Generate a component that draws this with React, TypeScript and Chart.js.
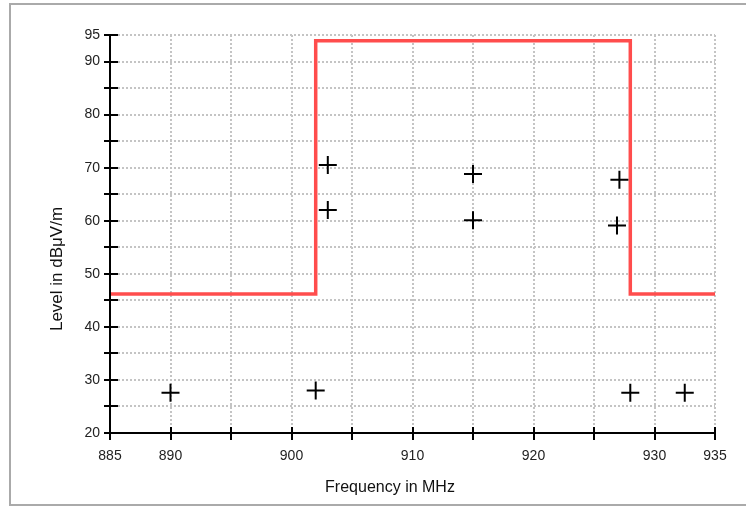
import React, { useEffect, useRef } from 'react';
import { Chart, registerables } from 'chart.js';

Chart.register(...registerables);

// ---- data ----
const limitFreq = [885, 902, 902, 928, 928, 935];
const limitLevel = [46.2, 46.2, 93.9, 93.9, 46.2, 46.2];
const measFreq = [890, 902, 903, 903, 915, 915, 927.1, 926.9, 928, 932.5];
const measLevel = [27.6, 28.0, 70.5, 62.0, 68.8, 60.1, 67.7, 59.1, 27.6, 27.6];
const xTickLabels = [885, 890, 900, 910, 920, 930, 935];
const yTickLabels = [20, 30, 40, 50, 60, 70, 80, 90, 95];
const xRange = [885, 935];
const yRange = [20, 95];
const tickStep = 5;
const xTitle = 'Frequency in MHz';
const yTitle = 'Level in dBμV/m';

const FONT = "'Liberation Sans', Arial, sans-serif";

const axesPlugin = {
  id: 'axesPlugin',
  afterDatasetsDraw(chart: any) {
    const { ctx, chartArea: a, scales } = chart;
    const x = scales.x;
    const y = scales.y;
    ctx.save();
    ctx.setLineDash([]);
    ctx.strokeStyle = '#000';
    ctx.lineWidth = 2;
    ctx.lineCap = 'butt';
    // axis lines
    ctx.beginPath();
    ctx.moveTo(a.left, a.top);
    ctx.lineTo(a.left, a.bottom + 1);
    ctx.moveTo(a.left - 1, a.bottom);
    ctx.lineTo(a.right, a.bottom);
    ctx.stroke();
    // crossing ticks
    ctx.beginPath();
    for (const t of y.ticks) {
      const py = Math.round(y.getPixelForValue(t.value));
      ctx.moveTo(a.left - 6, py);
      ctx.lineTo(a.left + 8, py);
    }
    for (const t of x.ticks) {
      const px = Math.round(x.getPixelForValue(t.value));
      ctx.moveTo(px, a.bottom - 6);
      ctx.lineTo(px, a.bottom + 7);
    }
    ctx.stroke();
    // axis titles
    ctx.fillStyle = '#111';
    ctx.font = `16px ${FONT}`;
    ctx.textAlign = 'center';
    ctx.textBaseline = 'alphabetic';
    ctx.fillText(xTitle, 390, 492);
    ctx.translate(62, 269);
    ctx.rotate(-Math.PI / 2);
    ctx.font = `17px ${FONT}`;
    ctx.fillText(yTitle, 0, 0);
    ctx.restore();
  },
};

export default function App() {
  const ref = useRef<HTMLCanvasElement | null>(null);

  useEffect(() => {
    if (!ref.current) return;
    const chart = new Chart(ref.current, {
      type: 'scatter',
      data: {
        datasets: [
          {
            type: 'line',
            label: 'Limit',
            data: limitFreq.map((f, i) => ({ x: f, y: limitLevel[i] })),
            borderColor: '#ff4d4d',
            borderWidth: 3.5,
            pointRadius: 0,
            fill: false,
            tension: 0,
            borderJoinStyle: 'miter',
            order: 2,
          } as any,
          {
            type: 'scatter',
            label: 'Measurements',
            data: measFreq.map((f, i) => ({ x: f, y: measLevel[i] })),
            pointStyle: 'cross',
            pointRadius: 9,
            pointHoverRadius: 9,
            borderColor: '#000',
            backgroundColor: '#000',
            borderWidth: 2,
            order: 1,
          } as any,
        ],
      },
      options: {
        animation: false,
        responsive: false,
        maintainAspectRatio: false,
        events: [],
        layout: { padding: { left: 0, top: 35, right: 31, bottom: 0 } },
        plugins: { legend: { display: false }, tooltip: { enabled: false } },
        scales: {
          x: {
            type: 'linear',
            min: xRange[0],
            max: xRange[1],
            ticks: {
              stepSize: tickStep,
              autoSkip: false,
              maxRotation: 0,
              padding: 15,
              color: '#222',
              font: { family: FONT, size: 14 },
              callback: (v: any) => (xTickLabels.includes(Number(v)) ? String(v) : ''),
            },
            grid: { color: '#c4c4c4', lineWidth: 2, drawTicks: false },
            border: { display: false, dash: [2, 2] },
            afterFit: (s: any) => {
              s.height = 73;
            },
          },
          y: {
            type: 'linear',
            min: yRange[0],
            max: yRange[1],
            ticks: {
              stepSize: tickStep,
              autoSkip: false,
              padding: 10,
              color: '#222',
              font: { family: FONT, size: 14 },
              callback: (v: any) => (yTickLabels.includes(Number(v)) ? String(v) : ''),
            },
            grid: { color: '#c4c4c4', lineWidth: 2, drawTicks: false },
            border: { display: false, dash: [2, 2] },
            afterFit: (s: any) => {
              s.width = 110;
            },
          },
        },
      },
      plugins: [axesPlugin],
    } as any);
    return () => chart.destroy();
  }, []);

  return (
    <div
      style={{
        position: 'fixed',
        left: 0,
        top: 0,
        width: 746,
        height: 506,
        background: '#fff',
        overflow: 'hidden',
      }}
    >
      <div
        style={{
          position: 'absolute',
          left: 9,
          top: 3,
          width: 800,
          height: 503,
          boxSizing: 'border-box',
          border: '2px solid #aaaaaa',
        }}
      />
      <canvas
        ref={ref}
        width={746}
        height={506}
        style={{ position: 'absolute', left: 0, top: 0, width: 746, height: 506 }}
      />
    </div>
  );
}
